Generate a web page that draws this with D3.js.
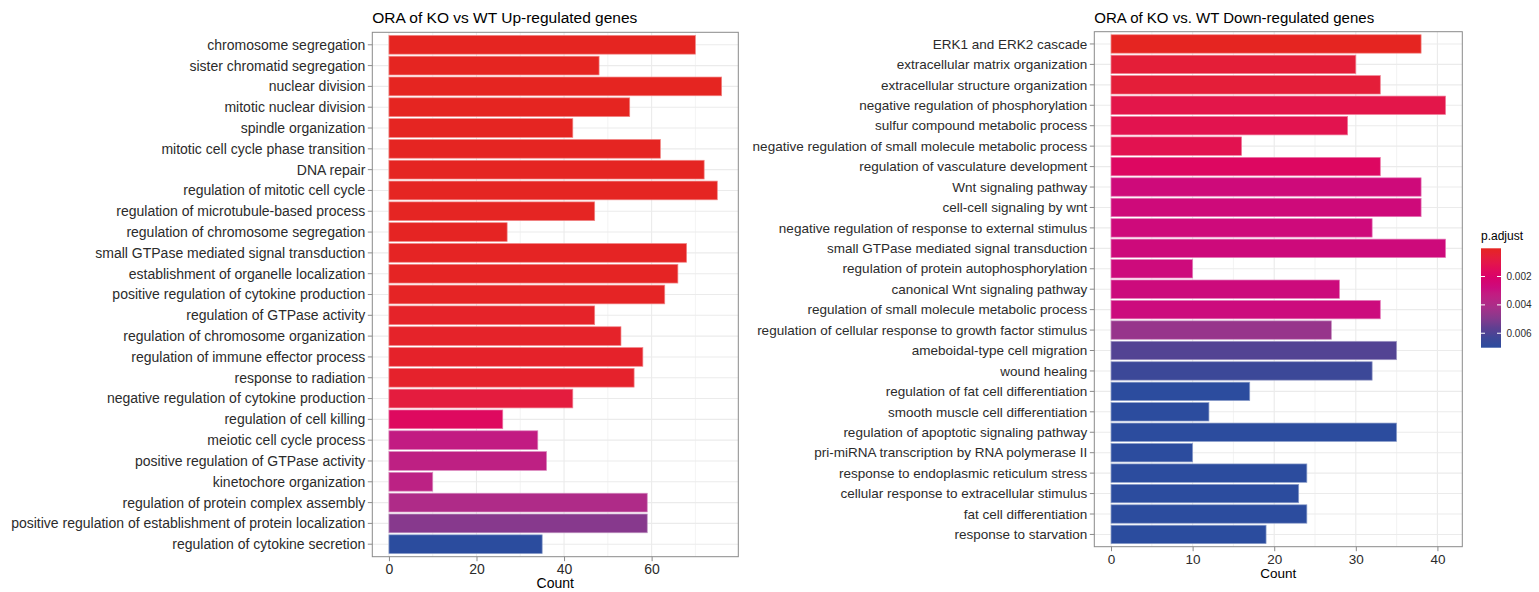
<!DOCTYPE html>
<html>
<head>
<meta charset="utf-8">
<script src="https://cdn.jsdelivr.net/npm/d3@7"></script>
<style>
  html, body { margin: 0; padding: 0; background: #fff; }
  svg { display: block; font-family: "Liberation Sans", Arial, Helvetica, sans-serif; }
</style>
</head>
<body>
<svg id="chart" width="1539" height="592"></svg>
<script>
// ORA results, KO vs WT, up-regulated genes
const upTerms = [
  "chromosome segregation",
  "sister chromatid segregation",
  "nuclear division",
  "mitotic nuclear division",
  "spindle organization",
  "mitotic cell cycle phase transition",
  "DNA repair",
  "regulation of mitotic cell cycle",
  "regulation of microtubule-based process",
  "regulation of chromosome segregation",
  "small GTPase mediated signal transduction",
  "establishment of organelle localization",
  "positive regulation of cytokine production",
  "regulation of GTPase activity",
  "regulation of chromosome organization",
  "regulation of immune effector process",
  "response to radiation",
  "negative regulation of cytokine production",
  "regulation of cell killing",
  "meiotic cell cycle process",
  "positive regulation of GTPase activity",
  "kinetochore organization",
  "regulation of protein complex assembly",
  "positive regulation of establishment of protein localization",
  "regulation of cytokine secretion"
];
const upCounts = [70, 48, 76, 55, 42, 62, 72, 75, 47, 27, 68, 66, 63, 47, 53, 58, 56, 42, 26, 34, 36, 10, 59, 59, 35];
const upPadj = [
  0.000010, 0.000010, 0.000011, 0.000015, 0.000024, 0.000031, 0.000033, 0.000040, 0.000045,
  0.000058, 0.000072, 0.000081, 0.000095, 0.00018, 0.00020, 0.00022, 0.00025, 0.00070,
  0.00168, 0.00323, 0.00344, 0.00351, 0.00393, 0.00491, 0.00702
];

// ORA results, KO vs WT, down-regulated genes
const downTerms = [
  "ERK1 and ERK2 cascade",
  "extracellular matrix organization",
  "extracellular structure organization",
  "negative regulation of phosphorylation",
  "sulfur compound metabolic process",
  "negative regulation of small molecule metabolic process",
  "regulation of vasculature development",
  "Wnt signaling pathway",
  "cell-cell signaling by wnt",
  "negative regulation of response to external stimulus",
  "small GTPase mediated signal transduction",
  "regulation of protein autophosphorylation",
  "canonical Wnt signaling pathway",
  "regulation of small molecule metabolic process",
  "regulation of cellular response to growth factor stimulus",
  "ameboidal-type cell migration",
  "wound healing",
  "regulation of fat cell differentiation",
  "smooth muscle cell differentiation",
  "regulation of apoptotic signaling pathway",
  "pri-miRNA transcription by RNA polymerase II",
  "response to endoplasmic reticulum stress",
  "cellular response to extracellular stimulus",
  "fat cell differentiation",
  "response to starvation"
];
const downCounts = [38, 30, 33, 41, 29, 16, 33, 38, 38, 32, 41, 10, 28, 33, 27, 35, 32, 17, 12, 35, 10, 24, 23, 24, 19];
const downPadj = [
  0.000012, 0.00056, 0.00058, 0.00105, 0.00118, 0.00121, 0.00176, 0.00265, 0.00265,
  0.00268, 0.00270, 0.00272, 0.00274, 0.00276, 0.00456, 0.00590, 0.00640, 0.00698,
  0.00698, 0.00698, 0.00698, 0.00700, 0.00700, 0.00700, 0.00702
];

const upTicks = [0, 20, 40, 60];
const downTicks = [0, 10, 20, 30, 40];
const legendTicks = [0.002, 0.004, 0.006];

const upTitle = "ORA of KO vs WT Up-regulated genes";
const downTitle = "ORA of KO vs. WT Down-regulated genes";
const xTitle = "Count";
const legendTitle = "p.adjust";

// Shared p.adjust colour scale (low = red, high = blue)
const rampColors = ["#E52521", "#E41C3E", "#E10D57", "#D8026C", "#CB0C7E", "#BC2284",
                    "#A6308A", "#87398D", "#5F3F91", "#3E4797", "#2B4C9E"];
const pExtent = d3.extent(upPadj.concat(downPadj));
const color = d3.scaleLinear()
  .domain(rampColors.map((_, i) => pExtent[0] + (pExtent[1] - pExtent[0]) * i / (rampColors.length - 1)))
  .range(rampColors)
  .interpolate(d3.interpolateLab);

const svg = d3.select("#chart");
svg.append("rect").attr("width", 1539).attr("height", 592).attr("fill", "#fff");

const TEXT = "#2b2b2b";
const BORDER = "#8a8a8a";

function drawPanel(cfg) {
  const { terms, counts, padj, ticks, box, title, fs } = cfg;
  const maxV = d3.max(counts);
  const x = d3.scaleLinear()
    .domain([-0.05 * maxV, 1.05 * maxV])
    .range([box.left, box.right]);
  const y = d3.scaleBand()
    .domain(terms)
    .range([box.top, box.bottom])
    .paddingInner(0.1)
    .paddingOuter(0.15);

  const g = svg.append("g");

  // minor vertical grid
  const step = ticks[1] - ticks[0];
  const minor = [];
  for (let v = ticks[0] - step / 2; v <= x.domain()[1]; v += step) {
    if (v >= x.domain()[0]) minor.push(v);
  }
  g.append("g").selectAll("line").data(minor).join("line")
    .attr("x1", d => x(d)).attr("x2", d => x(d))
    .attr("y1", box.top).attr("y2", box.bottom)
    .attr("stroke", "#EBEBEB").attr("stroke-width", 0.6);

  // major vertical grid
  g.append("g").selectAll("line").data(ticks).join("line")
    .attr("x1", d => x(d)).attr("x2", d => x(d))
    .attr("y1", box.top).attr("y2", box.bottom)
    .attr("stroke", "#EBEBEB").attr("stroke-width", 1.1);

  // major horizontal grid
  g.append("g").selectAll("line").data(terms).join("line")
    .attr("x1", box.left).attr("x2", box.right)
    .attr("y1", d => y(d) + y.bandwidth() / 2).attr("y2", d => y(d) + y.bandwidth() / 2)
    .attr("stroke", "#EBEBEB").attr("stroke-width", 1.1);

  // bars
  const rows = terms.map((t, i) => ({ term: t, count: counts[i], p: padj[i] }));
  g.append("g").selectAll("rect").data(rows).join("rect")
    .attr("x", x(0))
    .attr("y", d => y(d.term))
    .attr("width", d => x(d.count) - x(0))
    .attr("height", y.bandwidth())
    .attr("fill", d => color(d.p))
    .attr("stroke", d => d3.interpolateRgb(color(d.p), "#fff")(0.45))
    .attr("stroke-width", 0.7);

  // panel border
  g.append("rect")
    .attr("x", box.left).attr("y", box.top)
    .attr("width", box.right - box.left).attr("height", box.bottom - box.top)
    .attr("fill", "none").attr("stroke", BORDER).attr("stroke-width", 1);

  // y axis
  const ya = g.append("g")
    .attr("transform", `translate(${box.left},0)`)
    .call(d3.axisLeft(y).tickSize(4.5).tickPadding(2.5));
  ya.select(".domain").remove();
  ya.selectAll(".tick line").attr("stroke", BORDER);
  ya.selectAll(".tick text")
    .attr("fill", TEXT).attr("font-size", fs.axis)
    .attr("font-family", "'Liberation Sans', Arial, sans-serif")
    .attr("dy", "0.35em");

  // x axis
  const xa = g.append("g")
    .attr("transform", `translate(0,${box.bottom})`)
    .call(d3.axisBottom(x).tickValues(ticks).tickFormat(d3.format("d")).tickSize(4.5).tickPadding(3));
  xa.select(".domain").remove();
  xa.selectAll(".tick line").attr("stroke", BORDER);
  xa.selectAll(".tick text")
    .attr("fill", TEXT).attr("font-size", fs.axis)
    .attr("font-family", "'Liberation Sans', Arial, sans-serif");

  // x title
  g.append("text")
    .attr("x", (box.left + box.right) / 2)
    .attr("y", box.bottom + 31.5)
    .attr("text-anchor", "middle")
    .attr("font-size", fs.axis).attr("fill", "#000")
    .text(xTitle);

  // plot title
  g.append("text")
    .attr("x", box.left)
    .attr("y", 22.5)
    .attr("font-size", fs.title).attr("fill", "#000")
    .text(title);
}

drawPanel({
  terms: upTerms, counts: upCounts, padj: upPadj, ticks: upTicks, title: upTitle,
  box: { left: 372.3, right: 738.3, top: 32.3, bottom: 556.7 },
  fs: { axis: 14, title: 15.5 }
});
drawPanel({
  terms: downTerms, counts: downCounts, padj: downPadj, ticks: downTicks, title: downTitle,
  box: { left: 1094.3, right: 1462.3, top: 31.7, bottom: 546.7 },
  fs: { axis: 13.5, title: 15 }
});

// colour bar legend (low p.adjust at the top)
const leg = { left: 1481, right: 1501, top: 248.3, bottom: 347.7 };
const ly = d3.scaleLinear().domain(pExtent).range([leg.top, leg.bottom]);
const defs = svg.append("defs");
const grad = defs.append("linearGradient")
  .attr("id", "padj-grad").attr("x1", 0).attr("y1", 0).attr("x2", 0).attr("y2", 1);
d3.range(0, 1.0001, 0.05).forEach(t => {
  grad.append("stop")
    .attr("offset", t)
    .attr("stop-color", color(pExtent[0] + t * (pExtent[1] - pExtent[0])));
});
const lg = svg.append("g");
lg.append("text")
  .attr("x", leg.left).attr("y", 239.5)
  .attr("font-size", 12).attr("fill", "#000")
  .text(legendTitle);
lg.append("rect")
  .attr("x", leg.left).attr("y", leg.top)
  .attr("width", leg.right - leg.left).attr("height", leg.bottom - leg.top)
  .attr("fill", "url(#padj-grad)");
const tickLen = (leg.right - leg.left) / 5;
lg.append("g").selectAll("line").data(legendTicks).join("line")
  .attr("x1", leg.left).attr("x2", leg.left + tickLen)
  .attr("y1", d => ly(d)).attr("y2", d => ly(d))
  .attr("stroke", "#fff").attr("stroke-width", 1);
lg.append("g").selectAll("line").data(legendTicks).join("line")
  .attr("x1", leg.right - tickLen).attr("x2", leg.right)
  .attr("y1", d => ly(d)).attr("y2", d => ly(d))
  .attr("stroke", "#fff").attr("stroke-width", 1);
lg.append("g").selectAll("text").data(legendTicks).join("text")
  .attr("x", leg.right + 5.5)
  .attr("y", d => ly(d))
  .attr("dy", "0.35em")
  .attr("font-size", 10).attr("fill", TEXT)
  .text(d => d3.format(".3f")(d));
</script>
</body>
</html>
